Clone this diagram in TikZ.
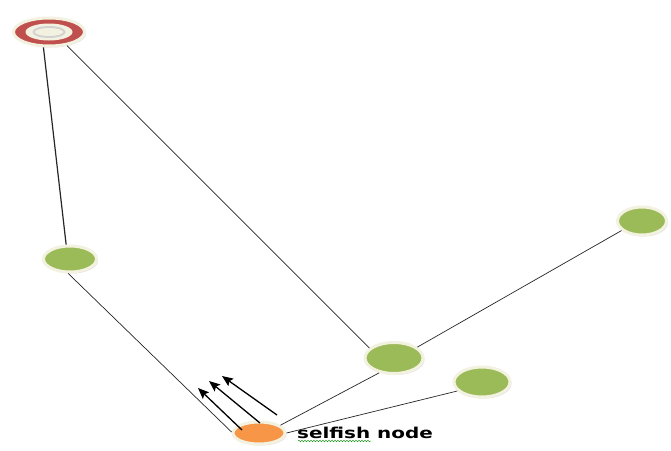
\documentclass[tikz,border=0pt]{standalone}
\usepackage{fontspec}
\newfontfamily\lblfont{DejaVu Sans}
\usetikzlibrary{shapes.geometric,arrows.meta,shadows,decorations.pathmorphing}
\definecolor{gfill}{HTML}{9BBB59}
\definecolor{ofill}{HTML}{F79646}
\definecolor{rfill}{HTML}{C0504D}
\definecolor{rim}{HTML}{F3F1E0}
\begin{document}
\begin{tikzpicture}[x=1pt,y=-1pt,
  basenode/.style={ellipse, draw=rim, line width=3pt, inner sep=0pt,
    drop shadow={shadow xshift=1.5pt, shadow yshift=-1.5pt, opacity=0.25, fill=gray}},
  gnode/.style={basenode, fill=gfill},
  onode/.style={basenode, fill=ofill},
  rnode/.style={basenode, fill=rfill},
  edge/.style={draw=black!85, line width=0.7pt},
  arr/.style={draw=black, line width=1.3pt, -{Stealth[length=11pt,width=9pt,inset=2pt]}}]
\useasboundingbox (0,0) rectangle (671,450);
\fill[white] (0,0) rectangle (671,450);
% nodes
\node[rnode, minimum width=71pt, minimum height=28pt] (r) at (49,32) {};
\fill[rim] (r.center) ellipse [x radius=23.5, y radius=8.5];
\draw[black!18, line width=1.8pt] (r.center) ellipse [x radius=15.5, y radius=5];
\node[gnode, minimum width=53pt, minimum height=26pt] (g1) at (70,259) {};
\node[gnode, minimum width=58pt, minimum height=31pt] (g2) at (394,358) {};
\node[gnode, minimum width=56pt, minimum height=30pt] (g3) at (482,382) {};
\node[gnode, minimum width=49pt, minimum height=28pt] (g4) at (642,221) {};
\node[onode, minimum width=52pt, minimum height=22pt] (o) at (259,433) {};
% edges
\draw[edge, line width=1.2pt] (r.-110) -- (g1.105);
\draw[edge] (r.-37) -- (g2.158);
\draw[edge] (g1.-97) -- (o.178);
\draw[edge] (o.20) -- (g2.-135);
\draw[edge] (o.0) -- (g3.-160);
\draw[edge] (g2.25) -- (g4.-155);
% arrows
\coordinate (a1s) at (242,430); \coordinate (a1e) at (198,388);
\coordinate (a2s) at (260,423); \coordinate (a2e) at (209,381);
\coordinate (a3s) at (277,415); \coordinate (a3e) at (222,376);
\draw[arr] (a1s) -- (a1e);
\draw[arr] (a2s) -- (a2e);
\draw[arr] (a3s) -- (a3e);
% label
\node[anchor=west, inner sep=0pt] (lbl) at (297,433)
  {\scalebox{1.33}[1]{\lblfont\bfseries\fontsize{15}{15}\selectfont selfish node}};
\coordinate (w1) at (298,441); \coordinate (w2) at (371,441);
\draw[green!55!black, line width=0.4pt, decorate,
  decoration={snake, amplitude=0.8pt, segment length=3pt}] (w1) -- (w2);
\end{tikzpicture}
\end{document}
